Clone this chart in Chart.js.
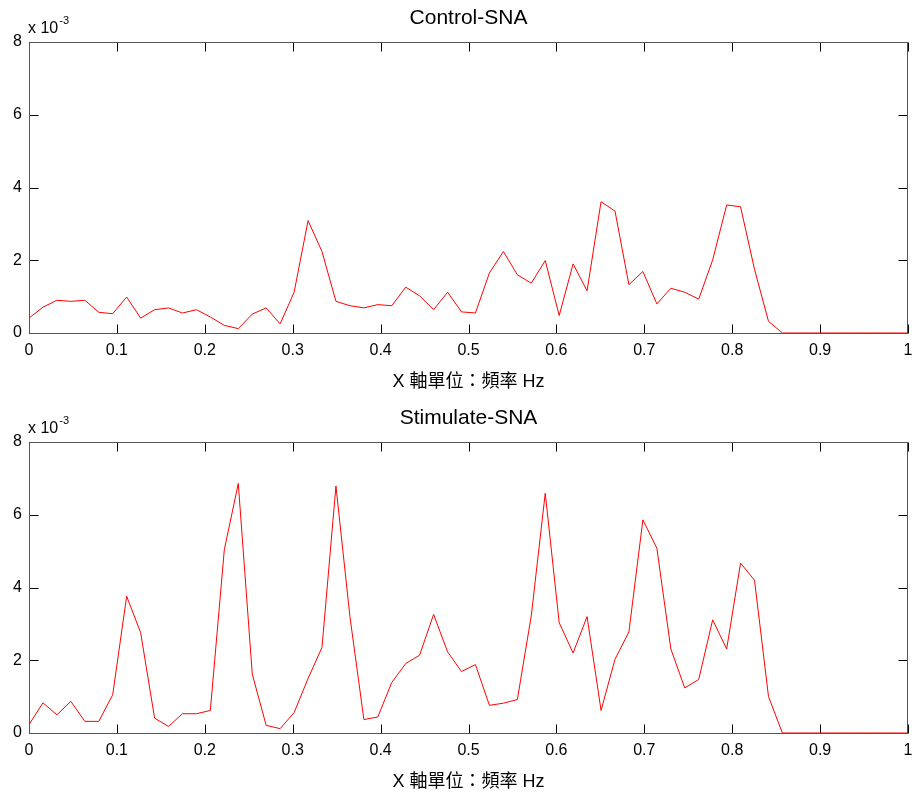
<!DOCTYPE html>
<html>
<head>
<meta charset="utf-8">
<script src="https://cdn.jsdelivr.net/npm/chart.js@4"></script>
<style>
  html, body { margin: 0; padding: 0; background: #fff; overflow: hidden; }
  .panel { position: absolute; left: 0; width: 917px; height: 400px; }
</style>
</head>
<body>
<div class="panel" style="top:0"><canvas id="controlChart" width="917" height="400"></canvas></div>
<div class="panel" style="top:400px"><canvas id="stimChart" width="917" height="400"></canvas></div>
<script>
// frequency bins (Hz)
const freqHz = [
  0, 0.0159, 0.0317, 0.0476, 0.0635, 0.0794, 0.0952, 0.1111, 0.1270, 0.1429,
  0.1587, 0.1746, 0.1905, 0.2063, 0.2222, 0.2381, 0.2540, 0.2698, 0.2857, 0.3016,
  0.3175, 0.3333, 0.3492, 0.3651, 0.3810, 0.3968, 0.4127, 0.4286, 0.4444, 0.4603,
  0.4762, 0.4921, 0.5079, 0.5238, 0.5397, 0.5556, 0.5714, 0.5873, 0.6032, 0.6190,
  0.6349, 0.6508, 0.6667, 0.6825, 0.6984, 0.7143, 0.7302, 0.7460, 0.7619, 0.7778,
  0.7937, 0.8095, 0.8254, 0.8413, 0.8571, 0.8730, 0.8889, 0.9048, 0.9206, 0.9365,
  0.9524, 0.9683, 0.9841, 1
];

// power, in units of 10^-3
const controlSNA = [
  0.41, 0.71, 0.90, 0.87, 0.90, 0.57, 0.53, 0.99, 0.41, 0.64,
  0.69, 0.55, 0.64, 0.44, 0.21, 0.12, 0.52, 0.69, 0.25, 1.12,
  3.09, 2.24, 0.87, 0.75, 0.69, 0.78, 0.75, 1.26, 1.02, 0.64,
  1.12, 0.58, 0.55, 1.65, 2.24, 1.60, 1.37, 1.99, 0.48, 1.90,
  1.16, 3.61, 3.35, 1.33, 1.69, 0.80, 1.23, 1.12, 0.93, 2.01,
  3.52, 3.47, 1.75, 0.32, 0, 0, 0, 0, 0, 0,
  0, 0, 0, 0
];

const stimulateSNA = [
  0.23, 0.83, 0.50, 0.87, 0.32, 0.32, 1.05, 3.76, 2.76, 0.41,
  0.18, 0.53, 0.53, 0.62, 5.04, 6.86, 1.62, 0.21, 0.12, 0.56,
  1.50, 2.35, 6.79, 3.20, 0.37, 0.44, 1.39, 1.91, 2.14, 3.26,
  2.23, 1.69, 1.88, 0.76, 0.82, 0.92, 3.22, 6.59, 3.03, 2.20,
  3.20, 0.62, 2.03, 2.78, 5.86, 5.08, 2.31, 1.24, 1.47, 3.11,
  2.31, 4.67, 4.20, 1.00, 0, 0, 0, 0, 0, 0,
  0, 0, 0, 0
];

const xTicks = [0, 0.1, 0.2, 0.3, 0.4, 0.5, 0.6, 0.7, 0.8, 0.9, 1];
const yTicks = [0, 2, 4, 6, 8];
const xLabel = "X 軸單位：頻率 Hz";

const FONT = "'Liberation Sans', Arial, 'Noto Sans CJK TC', sans-serif";

// matlab style box, inward ticks and the "x 10^-3" multiplier
const matlabAxes = {
  id: "matlabAxes",
  beforeDatasetsDraw(chart) {
    const { ctx, chartArea: a, scales } = chart;
    const left = Math.round(a.left) + 0.5;
    const right = Math.round(a.right) - 0.5;
    const top = Math.round(a.top) + 0.5;
    const bottom = Math.round(a.bottom) + 0.5;
    const len = 9;
    ctx.save();
    ctx.lineWidth = 1;
    ctx.strokeStyle = "#000";
    ctx.beginPath();
    scales.x.ticks.forEach((t) => {
      const px = Math.round(scales.x.getPixelForValue(t.value)) + 0.5;
      ctx.moveTo(px, bottom);
      ctx.lineTo(px, bottom - len);
      ctx.moveTo(px, top);
      ctx.lineTo(px, top + len);
    });
    scales.y.ticks.forEach((t) => {
      const py = Math.round(scales.y.getPixelForValue(t.value)) + 0.5;
      ctx.moveTo(left, py);
      ctx.lineTo(left + len, py);
      ctx.moveTo(right, py);
      ctx.lineTo(right - len, py);
    });
    ctx.stroke();
    ctx.strokeStyle = "#555";
    ctx.strokeRect(left, top, right - left, bottom - top);

    ctx.fillStyle = "#000";
    ctx.textAlign = "left";
    ctx.textBaseline = "alphabetic";
    ctx.font = "16px " + FONT;
    ctx.fillText("x 10", a.left - 1, a.top - 9);
    const w = ctx.measureText("x 10").width;
    ctx.font = "11px " + FONT;
    ctx.fillText("-3", a.left + w, a.top - 18);
    ctx.restore();
  },
};

function makeChart(id, title, values) {
  const points = freqHz.map((f, i) => ({ x: f, y: values[i] }));
  return new Chart(document.getElementById(id), {
    type: "line",
    data: {
      datasets: [
        {
          data: points,
          borderColor: "#ff0000",
          borderWidth: 1,
          pointRadius: 0,
          tension: 0,
          fill: false,
        },
      ],
    },
    options: {
      responsive: false,
      animation: false,
      events: [],
      layout: { padding: { left: 0, right: 9, top: 0, bottom: 0 } },
      plugins: {
        legend: { display: false },
        tooltip: { enabled: false },
        title: {
          display: true,
          fullSize: false,
          text: title,
          color: "#000",
          font: { family: FONT, size: 21, weight: "normal" },
          padding: { top: 6, bottom: 10.8 },
        },
      },
      scales: {
        x: {
          type: "linear",
          min: 0,
          max: 1,
          afterBuildTicks: (s) => {
            s.ticks = xTicks.map((v) => ({ value: v }));
          },
          afterFit: (s) => {
            s.height = 67;
            s.paddingLeft = 0;
            s.paddingRight = 0;
          },
          grid: { display: false, drawTicks: false },
          border: { display: false },
          ticks: {
            padding: 8,
            color: "#000",
            autoSkip: false,
            maxRotation: 0,
            font: { family: FONT, size: 16 },
            callback: (v) => String(v),
          },
          title: {
            display: true,
            text: xLabel,
            color: "#000",
            font: { family: FONT, size: 18 },
            padding: { top: 0, bottom: 7 },
          },
        },
        y: {
          min: 0,
          max: 8,
          afterBuildTicks: (s) => {
            s.ticks = yTicks.map((v) => ({ value: v }));
          },
          afterFit: (s) => {
            s.width = 29;
          },
          grid: { display: false, drawTicks: false },
          border: { display: false },
          ticks: {
            padding: 7,
            color: "#000",
            font: { family: FONT, size: 16 },
            callback: (v) => String(v),
          },
        },
      },
    },
    plugins: [matlabAxes],
  });
}

makeChart("controlChart", "Control-SNA", controlSNA);
makeChart("stimChart", "Stimulate-SNA", stimulateSNA);
</script>
</body>
</html>
